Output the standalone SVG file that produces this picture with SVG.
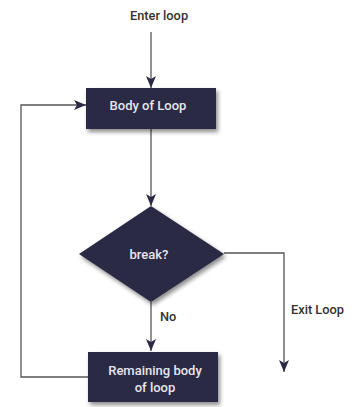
<svg xmlns="http://www.w3.org/2000/svg" width="358" height="407" viewBox="0 0 358 407">
  <style>
    .node { fill: #2b2a45; filter: url(#shadow); }
    .ntext { fill: #e6e6ee; font-family: Roboto, "Liberation Sans", sans-serif; font-size: 13px; font-weight: 500; text-anchor: middle; }
    .label { fill: #333333; font-family: Roboto, "Liberation Sans", sans-serif; font-size: 12.8px; font-weight: 500; }
    .wire { fill: none; stroke: #555555; stroke-width: 1.3; }
  </style>
  <defs>
    <filter id="shadow" x="-20%" y="-20%" width="150%" height="160%">
      <feDropShadow dx="2" dy="3" stdDeviation="2" flood-color="#000000" flood-opacity="0.45"/>
    </filter>
    <marker id="arrow" viewBox="0 0 12 10" refX="12" refY="5" markerWidth="12" markerHeight="10" markerUnits="userSpaceOnUse" orient="auto">
      <path d="M0,0 L12,5 L0,10 L3,5 Z" fill="#2b2a45"/>
    </marker>
  </defs>

  <rect width="358" height="407" fill="#ffffff"/>

  <!-- connectors -->
  <g id="connectors">
    <line class="wire" x1="151" y1="32" x2="151" y2="88" marker-end="url(#arrow)"/>
    <line class="wire" x1="151" y1="129" x2="151" y2="206" marker-end="url(#arrow)"/>
    <line class="wire" x1="151" y1="302" x2="151" y2="351" marker-end="url(#arrow)"/>
    <polyline class="wire" points="224,253 284,253 284,372" marker-end="url(#arrow)"/>
    <polyline class="wire" points="88,377 21,377 21,105 86,105" marker-end="url(#arrow)"/>
  </g>

  <!-- labels on connectors -->
  <text class="label" x="159" y="20" text-anchor="middle">Enter loop</text>
  <text class="label" x="160" y="321">No</text>
  <text class="label" x="291" y="314">Exit Loop</text>

  <g id="body">
    <rect class="node" x="86" y="88" width="130" height="41"/>
    <text class="ntext" x="148" y="109.5">Body of Loop</text>
  </g>

  <g id="decision">
    <polygon class="node" points="151,206 224,254 151,302 79,254"/>
    <text class="ntext" x="149" y="259">break?</text>
  </g>

  <g id="remaining">
    <rect class="node" x="88" y="352" width="130" height="50"/>
    <text class="ntext" x="155" y="374.5">Remaining body</text>
    <text class="ntext" x="155" y="391.5">of loop</text>
  </g>
</svg>
